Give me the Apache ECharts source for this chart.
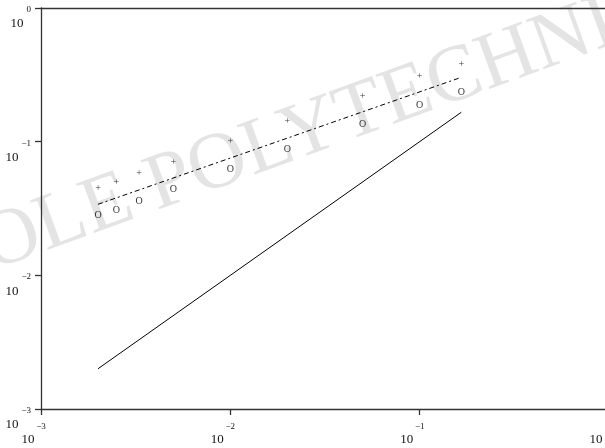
<!DOCTYPE html>
<html><head><meta charset="utf-8">
<script src="https://cdn.jsdelivr.net/npm/echarts@6/dist/echarts.min.js"></script>
<style>html,body{margin:0;padding:0;background:#fff}#c{width:605px;height:448px}</style>
</head><body><div id="c"></div>
<script>
// Data
const stepSizes = [0.002, 0.0025, 0.0033, 0.005, 0.01, 0.02, 0.05, 0.1, 0.166];
const plusValues = [0.0448, 0.0497, 0.058, 0.0696, 0.1003, 0.141, 0.2196, 0.306, 0.381];
const circleValues = [0.0279, 0.0308, 0.0356, 0.044, 0.0621, 0.0881, 0.1349, 0.188, 0.234];
const fitLineX = [0.002, 0.166];
const fitLineY = [0.034, 0.303];
const refLineX = [0.002, 0.166];
const refLineY = [0.002, 0.166];
const axisMin = 0.001, axisMax = 1;
const watermarkText = 'ECOLE POLYTECHNIQUE';

const FONT = '"Liberation Serif", "Times New Roman", serif';
function expStr(v){ const e = Math.round(Math.log10(v)); return e === 0 ? '0' : '\u2212' + Math.abs(e); }

const chart = echarts.init(document.getElementById('c'), null, {renderer:'canvas'});
const axisLineStyle = {color:'#333', width:1.3};
chart.setOption({
  animation:false,
  backgroundColor:'#fff',
  grid:{left:41, top:8, right:-4, bottom:39, containLabel:false, outerBoundsMode:'none'},
  graphic:[{
    type:'text', z:-10, x:-98, y:323, rotation: 20*Math.PI/180,
    silent:true,
    style:{text:watermarkText, font:'80px "Liberation Serif", "Times New Roman", serif', fill:'#e4e4e4', verticalAlign:'bottom', align:'left'}
  }],
  xAxis:[{
    type:'log', logBase:10, min:axisMin, max:axisMax, position:'bottom',
    axisLine:{show:true, lineStyle:axisLineStyle},
    axisTick:{show:true, length:6, lineStyle:axisLineStyle},
    splitLine:{show:false}, minorTick:{show:false},
    axisLabel:{
      margin:12, hideOverlap:false, showMinLabel:true, showMaxLabel:true,
      formatter:v => '{e|' + expStr(v) + '}\n{b|10}',
      rich:{
        e:{fontFamily:FONT, fontSize:9, lineHeight:12, color:'#111', align:'center'},
        b:{fontFamily:FONT, fontSize:13, lineHeight:14, color:'#111', align:'center', padding:[0,26,0,0]}
      }
    }
  },{
    type:'log', logBase:10, min:axisMin, max:axisMax, position:'top',
    axisLine:{show:true, onZero:false, lineStyle:axisLineStyle},
    axisTick:{show:false}, axisLabel:{show:false}, splitLine:{show:false}
  }],
  yAxis:[{
    type:'log', logBase:10, min:axisMin, max:axisMax, position:'left',
    axisLine:{show:true, onZero:false, lineStyle:axisLineStyle},
    axisTick:{show:true, length:6, lineStyle:axisLineStyle},
    splitLine:{show:false}, minorTick:{show:false},
    axisLabel:{
      margin:10, hideOverlap:false, showMinLabel:true, showMaxLabel:true,
      padding:[20,0,0,0],
      formatter:v => { const s = expStr(v); return '{e|' + s + '}\n{b|10}{p|' + s + '}'; },
      rich:{
        e:{fontFamily:FONT, fontSize:9, lineHeight:12, color:'#111', align:'right'},
        b:{fontFamily:FONT, fontSize:13, lineHeight:17, color:'#111', align:'right', padding:[0,3,0,0]},
        p:{fontFamily:FONT, fontSize:9, lineHeight:17, color:'rgba(0,0,0,0)', align:'right'}
      }
    }
  }],
  series:[
    {type:'scatter', xAxisIndex:0, yAxisIndex:0, symbolSize:1, itemStyle:{color:'rgba(0,0,0,0)'},
     data: stepSizes.map((x,i)=>[x, plusValues[i]]),
     label:{show:true, position:'inside', formatter:'+', fontFamily:FONT, fontSize:10, color:'#000'}},
    {type:'scatter', xAxisIndex:0, yAxisIndex:0, symbolSize:1, itemStyle:{color:'rgba(0,0,0,0)'},
     data: stepSizes.map((x,i)=>[x, circleValues[i]]),
     label:{show:true, position:'inside', formatter:'O', fontFamily:FONT, fontSize:10, color:'#000'}},
    {type:'line', xAxisIndex:0, yAxisIndex:0, symbol:'none',
     data: fitLineX.map((x,i)=>[x, fitLineY[i]]),
     lineStyle:{color:'#000', width:1, type:[5,3,2,3]}},
    {type:'line', xAxisIndex:0, yAxisIndex:0, symbol:'none',
     data: refLineX.map((x,i)=>[x, refLineY[i]]),
     lineStyle:{color:'#000', width:1}}
  ]
});
</script></body></html>
